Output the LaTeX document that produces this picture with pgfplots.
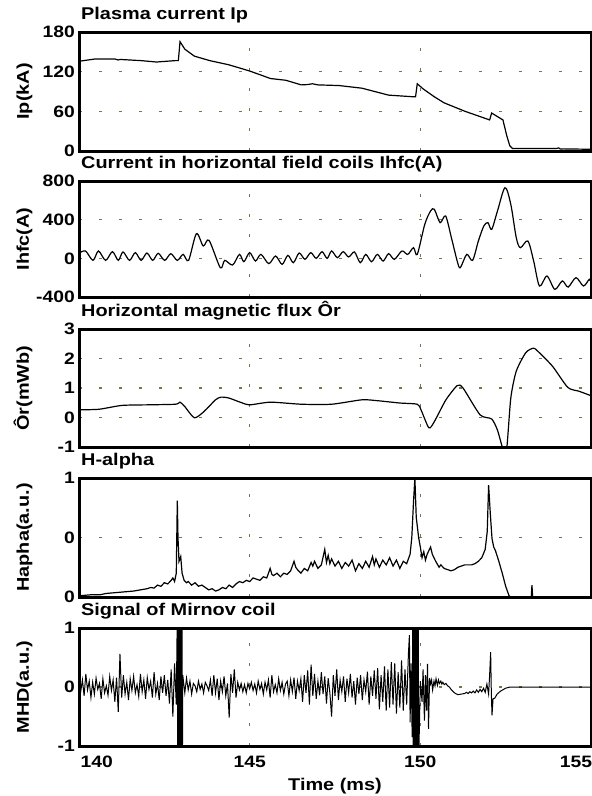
\documentclass[border=0pt]{standalone}
\usepackage{fontspec}
\setmainfont{Liberation Sans}[FakeStretch=1.17]
\usepackage{pgfplots}
\pgfplotsset{compat=1.18}

\definecolor{gridc}{RGB}{118,118,72}
\newcommand\tickfont{\fontsize{16.5bp}{18bp}\selectfont\bfseries}
\newcommand\labfont{\fontsize{17bp}{19bp}\selectfont\bfseries}

\pgfplotsset{
  panel/.style={
    scale only axis, width=512bp, anchor=north west,
    xmin=140, xmax=155, clip=true,
    xtick={145,150}, xticklabels={}, major tick length=0pt,
    grid=major,
    grid style={gridc, line width=1.1bp, dash pattern=on 2.7bp off 17.3bp},
    title style={at={(0,1)}, anchor=base west, xshift=2bp, yshift=6.5bp, inner sep=0pt, font=\labfont},
    yticklabel style={inner sep=0pt, xshift=-4bp, font=\tickfont},
    xticklabel style={inner sep=0pt, yshift=-10bp, font=\tickfont},
    ylabel style={at={(axis description cs:-0.0977,0.5)}, anchor=base, inner sep=0pt, font=\labfont},
    cycle list={{black, mark=none}},
    every axis plot/.append style={line width=1.2bp},
  }
}
\tikzset{panelframe/.style={draw=black, line width=3bp, line join=miter}}

\begin{document}
\begin{tikzpicture}
\useasboundingbox (0,0) rectangle (592bp,-796bp);

% Plasma current
\begin{axis}[panel, name=p1, at={(79bp,-32bp)}, height=119bp,
  ymin=0, ymax=180, ytick={0,60,120,180}, yticklabels={0,60,120,180},
  title={Plasma current Ip}, ylabel={Ip(kA)}]
\addplot coordinates {
 (140,135.7) (140.48,139.3) (141.04,139.3) (141.15,137.7) (141.2,138.5) (141.82,136.7)
 (142.27,134.6) (142.82,136.7) (142.91,136.7) (142.96,165.4) (143.1,154) (143.38,143.5)
 (143.83,136.7) (144.39,130.4) (145.0,121) (145.61,109.6) (146.06,107) (146.51,100)
 (146.7,100.5) (146.84,101.7) (147.0,100) (147.62,99) (148.29,95) (149.07,84.5) (149.8,82)
 (149.86,82) (149.91,101.7) (150.08,94) (150.41,82) (150.69,73) (151.31,60) (152.03,47)
 (152.09,57.4) (152.26,52) (152.42,47) (152.53,23.5) (152.62,8) (152.7,3.7) (153.98,3.7)
 (154.05,4.7) (154.1,3) (154.2,3.2) (155,2.6)
};
\end{axis}
\draw[panelframe] (p1.south west) rectangle (p1.north east);

% Horizontal field coil current
\begin{axis}[panel, name=p2, at={(79bp,-181bp)}, height=116bp,
  ymin=-400, ymax=800, ytick={-400,0,400,800}, yticklabels={-400,0,400,800},
  title={Current in horizontal field coils Ihfc(A)}, ylabel={Ihfc(A)}]
\addplot+[smooth, tension=0.5] coordinates {
 (140,52) (140.19,76) (140.41,-21) (140.57,76) (140.78,-21) (140.98,69) (141.15,-21)
 (141.29,66) (141.48,-21) (141.65,59) (141.82,-21) (141.99,55) (142.16,-21) (142.32,52)
 (142.51,-21) (142.69,48) (142.88,-21) (143.05,41) (143.21,-21) (143.44,255) (143.64,128)
 (143.81,186) (144.14,-97) (144.27,-21) (144.5,-69) (144.7,41) (144.83,-35) (145.0,59)
 (145.17,-28) (145.33,41) (145.56,-55) (145.76,24) (145.95,-62) (146.12,31) (146.28,-45)
 (146.45,55) (146.62,-10) (146.79,59) (146.95,0) (147.12,69) (147.27,0) (147.4,76)
 (147.57,7) (147.74,69) (147.9,14) (148.07,66) (148.24,-45) (148.4,41) (148.57,-35)
 (148.74,41) (148.91,-28) (149.07,48) (149.24,-10) (149.46,76) (149.63,41) (149.8,110)
 (149.91,41) (150.13,352) (150.3,490) (150.41,507) (150.58,369) (150.74,438) (150.91,214)
 (151.08,-28) (151.17,-97) (151.36,41) (151.53,-21) (151.7,179) (151.86,335) (151.98,369)
 (152.09,300) (152.26,490) (152.48,731) (152.65,559) (152.81,214) (152.93,110) (153.15,179)
 (153.32,-28) (153.49,-286) (153.71,-183) (153.94,-321) (154.16,-234) (154.33,-297)
 (154.56,-200) (154.78,-286) (154.95,-217) (155,-252)
};
\end{axis}
\draw[panelframe] (p2.south west) rectangle (p2.north east);

% Horizontal magnetic flux
\begin{axis}[panel, name=p3, at={(79bp,-329bp)}, height=118bp,
  ymin=-1, ymax=3, ytick={-1,0,1,2,3}, yticklabels={-1,0,1,2,3},
  title={Horizontal magnetic flux Ôr}, ylabel={Ôr(mWb)}]
\addplot+[smooth, tension=0.4] coordinates {
 (140,0.26) (140.59,0.28) (141.26,0.41) (142.04,0.43) (142.83,0.45) (142.96,0.52)
 (143.1,0.37) (143.38,-0.01) (143.66,0.2) (144.0,0.6) (144.16,0.69) (144.39,0.66)
 (144.72,0.52) (145.0,0.43) (145.61,0.52) (146.51,0.45) (147.4,0.45) (148.29,0.6)
 (148.74,0.57) (149.41,0.49) (149.91,0.45) (150.02,0.26) (150.25,-0.35) (150.41,-0.14)
 (150.75,0.6) (151.08,1.08) (151.25,1.0) (151.75,0.09) (152.09,-0.05) (152.26,-0.43)
 (152.42,-1.06) (152.53,-1.06) (152.65,0.66) (152.81,1.57) (153.09,2.2) (153.31,2.35)
 (153.43,2.26) (153.87,1.74) (154.32,1.02) (154.65,0.89) (155,0.74)
};
\end{axis}
\draw[panelframe] (p3.south west) rectangle (p3.north east);

% H-alpha
\begin{axis}[panel, name=p4, at={(79bp,-478bp)}, height=119bp,
  ymin=0, ymax=1, ytick={0,0.5,1}, yticklabels={0,0,1},
  title={H-alpha}, ylabel={Hapha(a.u.)}]
\addplot coordinates {
 (140.0,0.01) (140.2,0.015) (140.4,0.02) (140.6,0.018) (140.8,0.03) (141.0,0.035)
 (141.2,0.04) (141.4,0.045) (141.6,0.05) (141.8,0.06) (142.0,0.07) (142.1,0.08)
 (142.2,0.075) (142.3,0.1) (142.4,0.09) (142.5,0.12) (142.6,0.11) (142.7,0.14)
 (142.75,0.16) (142.8,0.13) (142.85,0.2) (142.88,0.81) (142.9,0.5) (142.93,0.3)
 (142.98,0.34) (143.02,0.2) (143.08,0.14) (143.15,0.12) (143.2,0.13) (143.3,0.1)
 (143.4,0.12) (143.5,0.09) (143.6,0.1) (143.7,0.08) (143.8,0.06) (143.9,0.07)
 (144.0,0.05) (144.1,0.06) (144.2,0.08) (144.3,0.07) (144.4,0.1) (144.5,0.08)
 (144.6,0.11) (144.7,0.13) (144.8,0.12) (144.9,0.14) (145.0,0.13) (145.1,0.16)
 (145.2,0.15) (145.3,0.14) (145.4,0.17) (145.5,0.16) (145.6,0.24) (145.65,0.19)
 (145.7,0.18) (145.8,0.2) (145.9,0.17) (146.0,0.2) (146.1,0.19) (146.2,0.22)
 (146.3,0.3) (146.35,0.25) (146.4,0.23) (146.5,0.2) (146.6,0.24) (146.7,0.22)
 (146.8,0.29) (146.85,0.26) (146.9,0.3) (147.0,0.24) (147.1,0.27) (147.2,0.4)
 (147.25,0.29) (147.3,0.35) (147.35,0.28) (147.4,0.32) (147.5,0.26) (147.6,0.3)
 (147.7,0.24) (147.8,0.29) (147.9,0.26) (148.0,0.31) (148.1,0.22) (148.2,0.28)
 (148.3,0.24) (148.4,0.3) (148.5,0.25) (148.6,0.34) (148.65,0.27) (148.7,0.32)
 (148.8,0.25) (148.9,0.31) (149.0,0.27) (149.1,0.33) (149.2,0.26) (149.3,0.31)
 (149.4,0.24) (149.5,0.3) (149.6,0.28) (149.7,0.36) (149.75,0.5) (149.8,0.8)
 (149.84,1.0) (149.88,0.67) (149.95,0.5) (150.0,0.42) (150.05,0.33) (150.1,0.38)
 (150.15,0.31) (150.2,0.36) (150.3,0.42) (150.35,0.36) (150.45,0.3) (150.55,0.25)
 (150.6,0.27) (150.7,0.24) (150.8,0.23) (150.9,0.22) (151.0,0.23) (151.1,0.25)
 (151.2,0.26) (151.3,0.27) (151.4,0.27) (151.5,0.27) (151.6,0.28) (151.7,0.3)
 (151.8,0.33) (151.9,0.4) (151.96,0.55) (152.0,0.94) (152.05,0.7) (152.1,0.49)
 (152.15,0.42) (152.2,0.39) (152.3,0.3) (152.4,0.2) (152.5,0.09) (152.6,0.01)
 (152.65,0) (153.25,0) (153.27,0.1) (153.29,0) (155,0)
};
\end{axis}
\draw[panelframe] (p4.south west) rectangle (p4.north east);

% Mirnov coil
\begin{axis}[panel, name=p5, at={(79bp,-628bp)}, height=118bp,
  ymin=-1, ymax=1, ytick={-1,0,1}, yticklabels={-1,0,1},
  xticklabels={145,150},
  extra x ticks={140.52,154.56}, extra x tick labels={140,155},
  extra x tick style={grid=none},
  title={Signal of Mirnov coil}, ylabel={MHD(a.u.)},
  xlabel={Time (ms)},
  xlabel style={at={(axis description cs:0.5,0)}, anchor=base, yshift=-44.7bp, inner sep=0pt, font=\labfont}]
\addplot+[line width=1bp] coordinates {
 (140.00,0.05) (140.05,-0.08) (140.10,0.12) (140.15,-0.15) (140.20,0.22) (140.25,-0.05)
 (140.30,0.10) (140.35,-0.18) (140.40,0.08) (140.45,-0.12) (140.50,0.15) (140.55,-0.04)
 (140.60,0.06) (140.65,-0.20) (140.70,0.14) (140.75,-0.10) (140.80,0.02) (140.85,-0.14)
 (140.90,0.18) (140.95,-0.06) (141.00,0.12) (141.05,-0.25) (141.10,0.16) (141.15,-0.42)
 (141.20,0.56) (141.25,-0.18) (141.30,0.20) (141.35,-0.12) (141.40,0.08) (141.45,-0.22)
 (141.50,0.14) (141.55,-0.06) (141.60,0.18) (141.65,-0.10) (141.70,0.04) (141.75,-0.16)
 (141.80,0.22) (141.85,-0.08) (141.90,0.12) (141.95,-0.20) (142.00,0.16) (142.05,-0.04)
 (142.10,0.10) (142.15,-0.18) (142.20,0.25) (142.25,-0.12) (142.30,0.06) (142.35,-0.22)
 (142.40,0.18) (142.45,-0.10) (142.50,0.20) (142.55,-0.15) (142.60,0.12) (142.65,-0.28)
 (142.70,0.30) (142.75,-0.50) (142.80,0.40) (142.85,-0.30)
 (142.88,1.3) (142.89,-1.3) (142.90,1.3) (142.91,-1.3) (142.92,1.3) (142.93,-1.3)
 (142.94,1.3) (142.95,-1.3) (142.96,1.3) (142.97,-1.3) (142.98,1.3) (142.99,-1.3)
 (143.00,1.3) (143.01,-1.3) (143.02,1.3) (143.03,-1.3) (143.04,0.2)
 (143.10,-0.10) (143.15,0.15) (143.20,-0.05) (143.25,0.10) (143.30,-0.12) (143.35,0.06)
 (143.40,0.02) (143.45,-0.08) (143.50,0.10) (143.55,-0.04) (143.60,0.05) (143.65,-0.10)
 (143.70,0.08) (143.75,0.02) (143.80,-0.06) (143.85,0.12) (143.90,-0.15) (143.95,0.20)
 (144.00,-0.10) (144.05,0.14) (144.10,-0.22) (144.15,0.10) (144.20,-0.08) (144.25,0.18)
 (144.30,-0.15) (144.35,0.06) (144.40,-0.52) (144.45,0.22) (144.50,-0.10) (144.55,0.30)
 (144.60,-0.18) (144.65,0.08) (144.70,-0.05) (144.75,0.06) (144.80,-0.08) (144.85,0.04)
 (144.90,-0.10) (144.95,0.06) (145.00,-0.03) (145.05,0.08) (145.10,-0.06) (145.15,0.05)
 (145.20,-0.10) (145.25,0.10) (145.30,-0.04) (145.35,0.06) (145.40,-0.12) (145.45,0.08)
 (145.50,-0.05) (145.55,0.12) (145.60,-0.18) (145.65,0.20) (145.70,-0.08) (145.75,0.04)
 (145.80,-0.10) (145.85,0.14) (145.90,-0.06) (145.95,0.08) (146.00,-0.12) (146.05,0.05)
 (146.10,0.10) (146.15,-0.15) (146.20,0.12) (146.25,-0.08) (146.30,0.16) (146.35,-0.20)
 (146.40,0.10) (146.45,-0.06) (146.50,0.14) (146.55,-0.25) (146.60,0.20) (146.65,-0.10)
 (146.70,0.28) (146.75,-0.30) (146.80,0.38) (146.85,-0.15) (146.90,0.22) (146.95,-0.20)
 (147.00,0.10) (147.05,-0.14) (147.10,0.25) (147.15,-0.12) (147.20,0.18) (147.25,-0.28)
 (147.30,0.15) (147.35,-0.10) (147.40,-0.50) (147.45,0.20) (147.50,-0.15) (147.55,0.30)
 (147.60,-0.22) (147.65,0.12) (147.70,-0.08) (147.75,0.18) (147.80,-0.25) (147.85,0.14)
 (147.90,-0.10) (147.95,0.22) (148.00,-0.18) (148.05,0.10) (148.10,-0.30) (148.15,0.16)
 (148.20,-0.12) (148.25,0.20) (148.30,-0.22) (148.35,0.12) (148.40,-0.08) (148.45,0.26)
 (148.50,-0.30) (148.55,0.18) (148.60,-0.15) (148.65,0.28) (148.70,-0.20) (148.75,0.32)
 (148.80,-0.38) (148.85,0.20) (148.90,-0.25) (148.95,0.35) (149.00,-0.40) (149.05,0.30)
 (149.10,-0.35) (149.15,0.42) (149.20,-0.30) (149.25,0.40) (149.30,-0.45) (149.35,0.25)
 (149.40,-0.35) (149.45,0.45) (149.50,-0.40) (149.55,0.30) (149.60,-0.30) (149.65,0.55)
 (149.68,0.88) (149.70,-0.60) (149.73,0.40) (149.76,-0.85)
 (149.78,1.3) (149.79,-1.3) (149.80,1.3) (149.81,-1.3) (149.82,1.3) (149.83,-1.3)
 (149.84,1.3) (149.85,-1.3) (149.86,1.3) (149.87,-1.3) (149.88,1.3) (149.89,-1.3)
 (149.90,1.3) (149.91,-1.3) (149.92,1.3) (149.93,-1.3) (149.94,1.3) (149.95,-1.3)
 (150.00,0.10) (150.05,-0.25) (150.08,0.30) (150.12,-0.57) (150.15,0.20) (150.18,-0.40)
 (150.21,0.39) (150.24,-0.71) (150.27,0.15) (150.30,0.05) (150.33,0.12) (150.36,-0.05)
 (150.40,0.10) (150.43,0.02) (150.46,0.14) (150.50,0.03) (150.53,0.12) (150.56,0.06)
 (150.60,0.10) (150.63,0.05) (150.66,0.08) (150.70,0.04) (150.75,0.06) (150.80,0.02)
 (150.85,0.0) (150.90,-0.04) (151.00,-0.10) (151.10,-0.13) (151.20,-0.12) (151.30,-0.11)
 (151.35,-0.09) (151.40,-0.11) (151.45,-0.08) (151.50,-0.10) (151.55,-0.07) (151.60,-0.10)
 (151.65,-0.05) (151.70,-0.09) (151.75,-0.04) (151.80,-0.08) (151.85,-0.02) (151.90,-0.09)
 (151.95,0.05) (152.00,-0.12) (152.03,0.20) (152.06,0.59) (152.08,-0.10) (152.10,-0.48)
 (152.13,-0.20) (152.18,-0.19) (152.25,-0.12) (152.35,-0.07) (152.50,-0.02) (152.63,0.0)
 (155,0.0)
};
\end{axis}
\draw[panelframe] (p5.south west) rectangle (p5.north east);
\end{tikzpicture}
\end{document}
